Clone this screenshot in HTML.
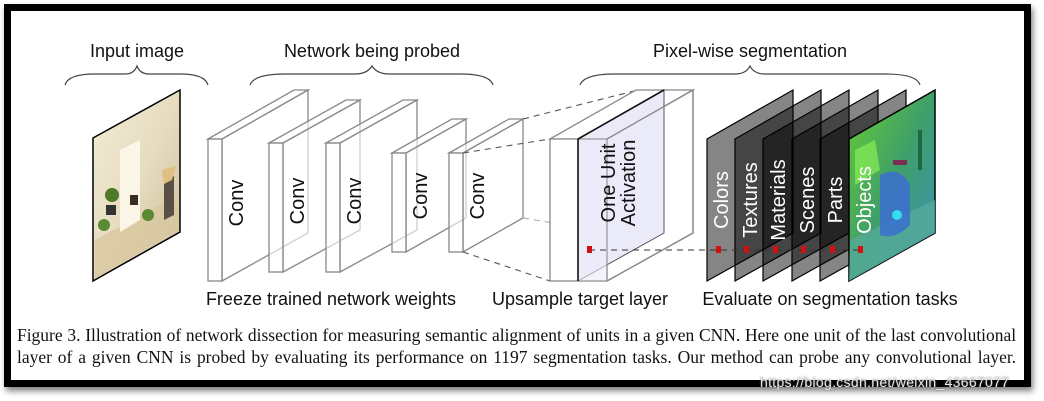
<!DOCTYPE html>
<html><head><meta charset="utf-8"><style>
body{margin:0;width:1044px;height:401px;background:#fff;overflow:hidden;position:relative;font-family:"Liberation Sans",sans-serif}
.frame{position:absolute;left:4px;top:4px;width:1013px;height:369px;border:7px solid #000;box-shadow:2px 4px 6px rgba(0,0,0,.5)}
.cap{position:absolute;left:17px;width:1030px;font-family:"Liberation Serif",serif;font-size:18px;line-height:20px;color:#111;text-align:justify;text-align-last:justify;white-space:nowrap;transform:scaleX(0.97);transform-origin:0 0}
.wm{position:absolute;left:760px;top:374px;font-size:14px;color:#e8e8e8;text-shadow:0 0 2px #666;letter-spacing:0.3px}
</style></head><body>
<div class="frame"></div>
<svg width="1044" height="401" style="position:absolute;left:0;top:0" font-family="Liberation Sans, sans-serif">
<defs>
<linearGradient id="room" x1="0" y1="0" x2="1" y2="1">
<stop offset="0" stop-color="#f3ecd6"/><stop offset="0.5" stop-color="#e6dcc0"/><stop offset="1" stop-color="#cdbd98"/></linearGradient>
<linearGradient id="obj" x1="0" y1="0" x2="1" y2="1">
<stop offset="0" stop-color="#66cc33"/><stop offset="0.5" stop-color="#3f9f6a"/><stop offset="1" stop-color="#3f8fc0"/></linearGradient>
</defs>
<g font-size="18" fill="#111" text-anchor="middle">
<text x="137" y="57">Input image</text>
<text x="372" y="57">Network being probed</text>
<text x="750" y="57">Pixel-wise segmentation</text>
<text x="331" y="305">Freeze trained network weights</text>
<text x="580" y="305">Upsample target layer</text>
<text x="830" y="305">Evaluate on segmentation tasks</text>
</g>
<g fill="none" stroke="#444" stroke-width="1.2">
<path d="M65,85 Q68,74 95,74 L125,74 Q134,74 137,66 Q140,74 149,74 L180,74 Q205,74 208,85"/>
<path d="M250,85 Q254,74 285,74 L355,74 Q367,74 372,66 Q377,74 389,74 L460,74 Q490,74 493,85"/>
<path d="M580,85 Q584,74 615,74 L735,74 Q746,74 750,66 Q754,74 765,74 L885,74 Q917,74 920,85"/>
</g>
<!-- input image -->
<polygon points="93,138 180,90 180,232 93,281" fill="url(#room)" stroke="#000" stroke-width="1.5"/>
<polygon points="95,240 178,195 178,230 95,279" fill="#d8c8a0" opacity=".8"/>
<polygon points="120,150 140,140 140,220 120,232" fill="#fbf6e8"/>
<circle cx="112" cy="195" r="7" fill="#4f7a2a"/><circle cx="148" cy="215" r="6" fill="#5a8a32"/>
<circle cx="104" cy="225" r="6" fill="#5a8a32"/>
<rect x="106" y="205" width="10" height="10" fill="#333"/><rect x="130" y="195" width="8" height="10" fill="#3a2e20"/>
<polygon points="164,180 174,176 174,215 164,220" fill="#5a5046"/><polygon points="162,170 176,166 172,180 164,184" fill="#e0c080"/>
<!-- conv slabs -->
<g fill="#fff" fill-opacity="0.6" stroke="#888" stroke-width="1.3">
<g><polygon points="222,139 308,90 308,233 222,281"/><polygon points="208,139 294,90 308,90 222,139"/><rect x="208" y="139" width="14" height="142"/></g>
<g><polygon points="283,143 360,100 360,230 283,272"/><polygon points="269,143 346,100 360,100 283,143"/><rect x="269" y="143" width="14" height="129"/></g>
<g><polygon points="340,143 417,100 417,230 340,272"/><polygon points="326,143 403,100 417,100 340,143"/><rect x="326" y="143" width="14" height="129"/></g>
<g><polygon points="406,153 466,119 466,218 406,252"/><polygon points="392,153 452,119 466,119 406,153"/><rect x="392" y="153" width="14" height="99"/></g>
<g><polygon points="463,153 523,119 523,218 463,252"/><polygon points="449,153 509,119 523,119 463,153"/><rect x="449" y="153" width="14" height="99"/></g>
</g>
<g font-size="20" fill="#111" text-anchor="middle">
<text transform="translate(243,203) rotate(-90)">Conv</text>
<text transform="translate(304,201) rotate(-90)">Conv</text>
<text transform="translate(361,201) rotate(-90)">Conv</text>
<text transform="translate(427,196) rotate(-90)">Conv</text>
<text transform="translate(484,196) rotate(-90)">Conv</text>
</g>
<!-- dashed projections -->
<g stroke="#555" stroke-width="1.1" stroke-dasharray="6,5" fill="none">
<line x1="463" y1="153" x2="550" y2="139"/><line x1="523" y1="119" x2="634" y2="91"/>
<line x1="463" y1="252" x2="550" y2="281"/><line x1="523" y1="218" x2="578" y2="227" stroke="#aaa"/>
</g>
<!-- upsample box -->
<g stroke="#888" stroke-width="1.3" fill="none">
<polygon points="550,139 636,90 693,90 607,139"/>
<rect x="550" y="139" width="57" height="142" fill="#fff"/>
<polyline points="607,281 693,233 693,90"/>
</g>
<polygon points="578,139 664,90 664,233 578,281" fill="#e6e6f8" fill-opacity=".85" stroke="#555" stroke-width="1"/>
<rect x="578" y="139" width="29" height="142" fill="#ecebf8" fill-opacity=".6" stroke="#888"/>
<line x1="578" y1="139" x2="578" y2="281" stroke="#111" stroke-width="1.6"/>
<line x1="578" y1="139" x2="664" y2="90" stroke="#111" stroke-width="1.6"/>
<polyline points="607,281 693,233 693,90 607,139" fill="none" stroke="#888" stroke-width="1.3"/>
<g font-size="20" fill="#111" text-anchor="middle">
<text transform="translate(615,183) rotate(-90)">One Unit</text>
<text transform="translate(635,183) rotate(-90)">Activation</text>
</g>
<!-- segmentation planes -->
<g stroke="#000" stroke-width="1.2" fill="#000" fill-opacity="0.48">
<polygon points="707,139 793,90 793,233 707,281"/>
<polygon points="735,139 821,90 821,233 735,281"/>
<polygon points="763,139 849,90 849,233 763,281"/>
<polygon points="792,139 878,90 878,233 792,281"/>
<polygon points="820,139 906,90 906,233 820,281"/>
</g>
<polygon points="849,139 935,90 935,233 849,281" fill="url(#obj)" stroke="#000" stroke-width="1.5"/>
<polygon points="850,240 935,200 935,233 849,281" fill="#55aa99" opacity=".8"/>
<path d="M880,175 q20,-10 30,10 l0,40 q-15,15 -30,10z" fill="#3c6fd0" opacity=".85"/>
<path d="M855,150 l20,-10 l5,30 l-25,15z" fill="#88ee55" opacity=".7"/>
<circle cx="897" cy="215" r="5" fill="#33ddee"/><rect x="893" y="160" width="14" height="5" fill="#7a3050"/>
<rect x="918" y="130" width="4" height="40" fill="#1a6a40"/>
<g font-size="20" fill="#fff" text-anchor="middle">
<text transform="translate(728,200) rotate(-90)">Colors</text>
<text transform="translate(757,200) rotate(-90)">Textures</text>
<text transform="translate(785,200) rotate(-90)">Materials</text>
<text transform="translate(814,200) rotate(-90)">Scenes</text>
<text transform="translate(842,200) rotate(-90)">Parts</text>
<text transform="translate(871,200) rotate(-90)">Objects</text>
</g>
<line x1="589" y1="250" x2="858" y2="250" stroke="#333" stroke-width="1.1" stroke-dasharray="6,5"/>
<g fill="#d01010">
<rect x="587" y="246" width="5" height="7"/><rect x="716" y="246" width="5" height="7"/><rect x="744" y="246" width="5" height="7"/>
<rect x="773" y="246" width="5" height="7"/><rect x="801" y="246" width="5" height="7"/><rect x="830" y="246" width="5" height="7"/><rect x="858" y="246" width="5" height="7"/>
</g>
</svg>
<div class="cap" style="top:325px">Figure 3. Illustration of network dissection for measuring semantic alignment of units in a given CNN. Here one unit of the last convolutional</div>
<div class="cap" style="top:347px">layer of a given CNN is probed by evaluating its performance on 1197 segmentation tasks. Our method can probe any convolutional layer.</div>
<div class="wm">https://blog.csdn.net/weixin_43667077</div>
</body></html>
